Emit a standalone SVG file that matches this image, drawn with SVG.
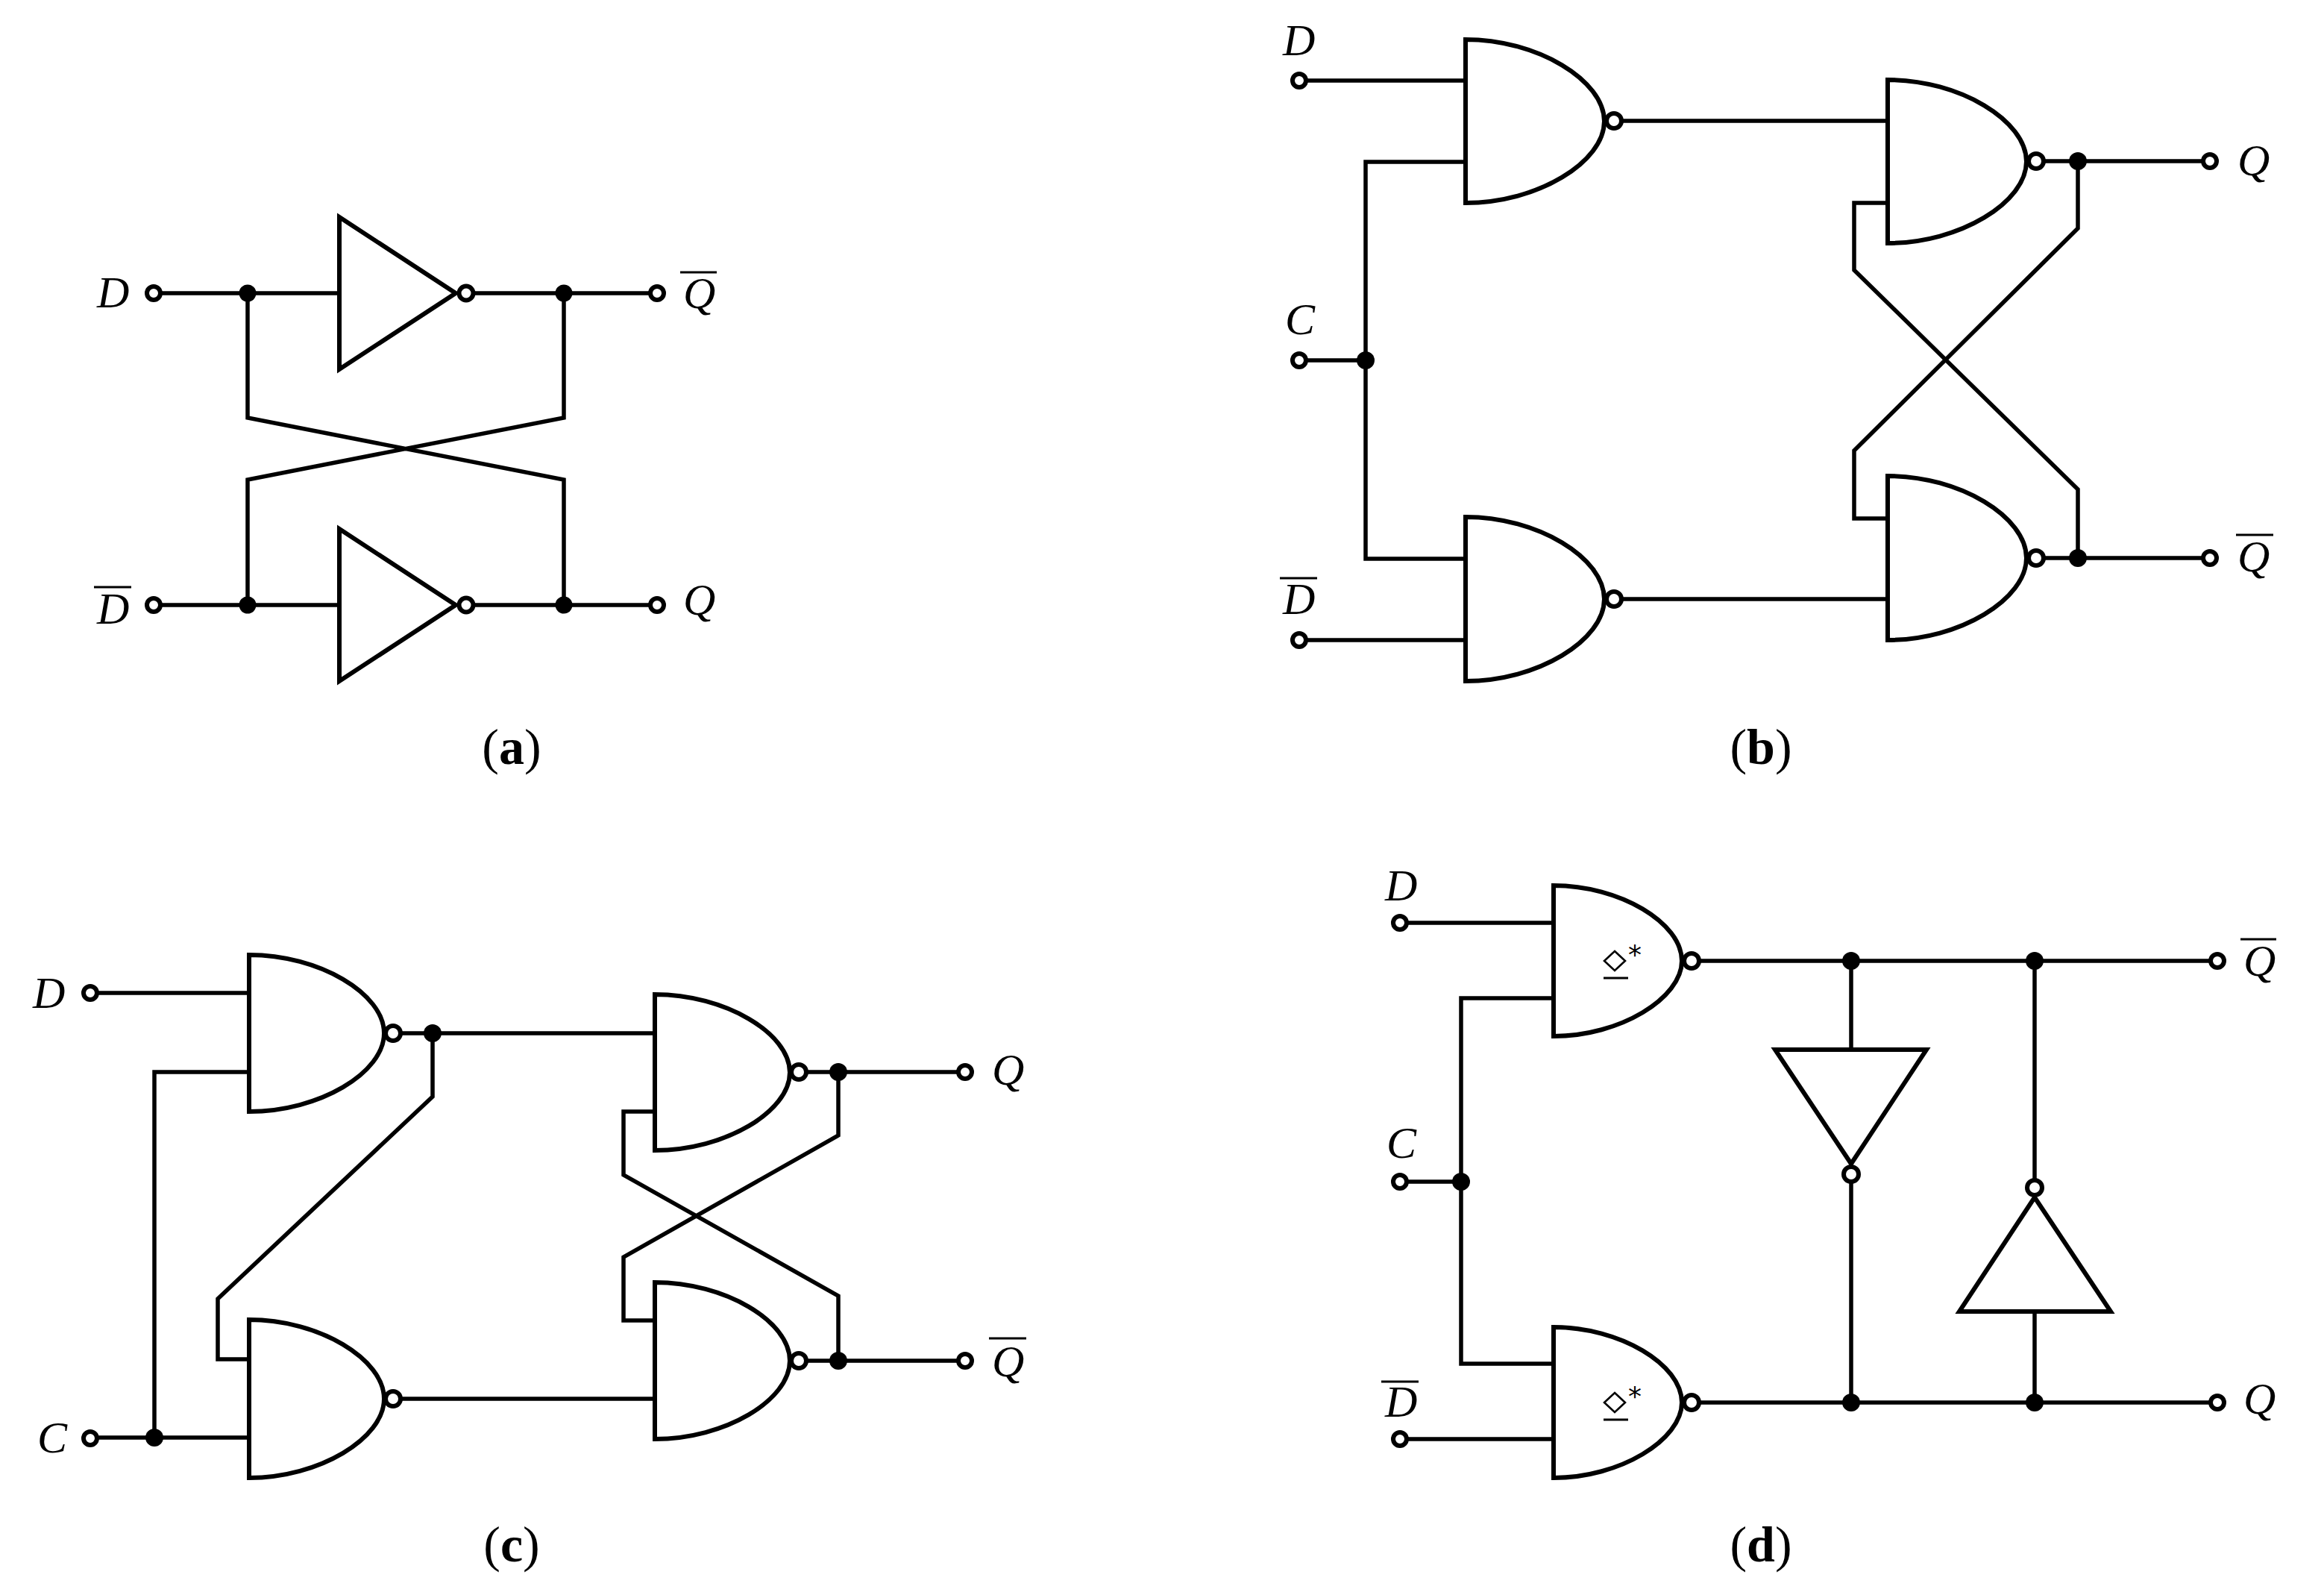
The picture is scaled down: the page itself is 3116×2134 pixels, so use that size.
<svg xmlns="http://www.w3.org/2000/svg" width="3116" height="2134" viewBox="0 0 3116 2134">
<style>
.w{fill:none;stroke:#000;stroke-width:5.5;stroke-linejoin:miter}
.g{fill:#fff;stroke:#000;stroke-width:6;stroke-linejoin:miter}
.o{fill:#fff;stroke:#000;stroke-width:6}
.j{fill:#000}
.b{fill:none;stroke:#000;stroke-width:3}
.l{font-family:"Liberation Serif",serif;font-style:italic;font-size:60px;fill:#000}
.c{font-family:"Liberation Serif",serif;font-size:68px;fill:#000;text-anchor:middle}
.c tspan{font-weight:bold}
.s{font-family:"DejaVu Sans",sans-serif;font-size:36px;fill:#000}
.d{fill:none;stroke:#000;stroke-width:2.6}
</style>
<rect width="3116" height="2134" fill="#fff"/>
<g id="connectors">
<path class="w" d="M206 393H455M625 393H881M332 393V560L756 643V811M756 393V560L332 643V811M206 811H455M625 811H881"/>
<path class="w" d="M1742 108H1965M1742 483H1831M1965 217H1831V749H1965M1742 858H1965M2164 162H2531M2164 803H2531M2730 216H2963M2730 748H2963M2786 216V306L2486 604V695H2531M2531 272H2486V362L2786 656V748"/>
<path class="w" d="M121 1331H334M121 1927H334M334 1437H207V1927M527 1385H878M580 1385V1470L292 1741V1822H334M527 1875H878M1071 1437H1294M1071 1824H1294M878 1490H836V1575L1124 1737V1824M1124 1437V1522L836 1685V1770H878"/>
<path class="w" d="M1877 1237H2083M1877 1584H1959M2083 1338H1959V1828H2083M1877 1929H2083M2268 1288H2973M2268 1880H2973M2482 1288V1407M2482 1574V1880M2728 1288V1592M2728 1758V1880"/>
<g class="j">
<circle cx="332" cy="393" r="11.5"/><circle cx="756" cy="393" r="11.5"/><circle cx="332" cy="811" r="11.5"/><circle cx="756" cy="811" r="11.5"/>
<circle cx="1831" cy="483" r="12"/><circle cx="2786" cy="216" r="12"/><circle cx="2786" cy="748" r="12"/>
<circle cx="207" cy="1927" r="12"/><circle cx="580" cy="1385" r="12"/><circle cx="1124" cy="1437" r="12"/><circle cx="1124" cy="1824" r="12"/>
<circle cx="1959" cy="1584" r="12"/><circle cx="2482" cy="1288" r="12"/><circle cx="2728" cy="1288" r="12"/><circle cx="2482" cy="1880" r="12"/><circle cx="2728" cy="1880" r="12"/>
</g>
</g>
<g id="a-inv1"><polygon class="g" points="455,291 611,393 455,495"/><circle class="o" cx="625" cy="393" r="9.5"/></g>
<g id="a-inv2"><polygon class="g" points="455,709 611,811 455,913"/><circle class="o" cx="625" cy="811" r="9.5"/></g>
<g id="a-D"><circle class="o" cx="206" cy="393" r="9"/><text class="l" x="130" y="412">D</text></g>
<g id="a-Dbar"><circle class="o" cx="206" cy="811" r="9"/><path class="b" d="M126 787H176"/><text class="l" x="130" y="836">D</text></g>
<g id="a-Qbar"><circle class="o" cx="881" cy="393" r="9"/><path class="b" d="M912 365H961"/><text class="l" x="916" y="413">Q</text></g>
<g id="a-Q"><circle class="o" cx="881" cy="811" r="9"/><text class="l" x="916" y="824">Q</text></g>
<text id="cap-a" class="c" x="686" y="1024">(<tspan>a</tspan>)</text>

<g id="b-nand1"><path class="g" d="M1965 53C2062 53 2151 108 2151 162.500C2151 217 2062 272 1965 272Z"/><circle class="o" cx="2164" cy="162" r="10"/></g>
<g id="b-nand2"><path class="g" d="M2531 107C2628 107 2717 162 2717 216.500C2717 271 2628 326 2531 326Z"/><circle class="o" cx="2730" cy="216" r="10"/></g>
<g id="b-nand3"><path class="g" d="M1965 693C2062 693 2151 748 2151 803C2151 858 2062 913 1965 913Z"/><circle class="o" cx="2164" cy="803" r="10"/></g>
<g id="b-nand4"><path class="g" d="M2531 638C2628 638 2717 693 2717 748C2717 803 2628 858 2531 858Z"/><circle class="o" cx="2730" cy="748" r="10"/></g>
<g id="b-D"><circle class="o" cx="1742" cy="108" r="9"/><text class="l" x="1720" y="74">D</text></g>
<g id="b-C"><circle class="o" cx="1742" cy="483" r="9"/><text class="l" x="1723" y="448">C</text></g>
<g id="b-Dbar"><circle class="o" cx="1742" cy="858" r="9"/><path class="b" d="M1716 775H1766"/><text class="l" x="1720" y="823">D</text></g>
<g id="b-Q"><circle class="o" cx="2963" cy="216" r="9"/><text class="l" x="3000" y="235">Q</text></g>
<g id="b-Qbar"><circle class="o" cx="2963" cy="748" r="9"/><path class="b" d="M2998 717H3048"/><text class="l" x="3000" y="766">Q</text></g>
<text id="cap-b" class="c" x="2361" y="1024">(<tspan>b</tspan>)</text>

<g id="c-nand1"><path class="g" d="M334 1280C428 1280 515 1332 515 1385C515 1438 428 1490 334 1490Z"/><circle class="o" cx="527" cy="1385" r="10"/></g>
<g id="c-nand2"><path class="g" d="M334 1769C428 1769 515 1822 515 1875C515 1928 428 1981 334 1981Z"/><circle class="o" cx="527" cy="1875" r="10"/></g>
<g id="c-nand3"><path class="g" d="M878 1333C972 1333 1059 1385 1059 1437.500C1059 1490 972 1542 878 1542Z"/><circle class="o" cx="1071" cy="1437" r="10"/></g>
<g id="c-nand4"><path class="g" d="M878 1719C972 1719 1059 1771 1059 1824C1059 1877 972 1929 878 1929Z"/><circle class="o" cx="1071" cy="1824" r="10"/></g>
<g id="c-D"><circle class="o" cx="121" cy="1331" r="9"/><text class="l" x="44" y="1351">D</text></g>
<g id="c-C"><circle class="o" cx="121" cy="1928" r="9"/><text class="l" x="50" y="1947">C</text></g>
<g id="c-Q"><circle class="o" cx="1294" cy="1437" r="9"/><text class="l" x="1330" y="1454">Q</text></g>
<g id="c-Qbar"><circle class="o" cx="1294" cy="1824" r="9"/><path class="b" d="M1326 1794H1376"/><text class="l" x="1330" y="1845">Q</text></g>
<text id="cap-c" class="c" x="686" y="2093">(<tspan>c</tspan>)</text>

<g id="d-nand1"><path class="g" d="M2083 1187C2172 1187 2255 1237 2255 1288C2255 1338 2172 1389 2083 1389Z"/><circle class="o" cx="2268" cy="1288" r="10"/><polygon class="d" points="2165,1275 2179,1288 2165,1301 2151,1288"/><path class="b" d="M2150 1311H2183"/><text class="s" x="2183" y="1292">*</text></g>
<g id="d-nand2"><path class="g" d="M2083 1779C2172 1779 2255 1829 2255 1880C2255 1930 2172 1981 2083 1981Z"/><circle class="o" cx="2268" cy="1880" r="10"/><polygon class="d" points="2165,1867 2179,1880 2165,1893 2151,1880"/><path class="b" d="M2150 1903H2183"/><text class="s" x="2183" y="1884">*</text></g>
<g id="d-inv1"><polygon class="g" points="2380,1407 2583,1407 2482,1560"/><circle class="o" cx="2482" cy="1574" r="10"/></g>
<g id="d-inv2"><polygon class="g" points="2627,1758 2830,1758 2728,1605"/><circle class="o" cx="2728" cy="1592" r="10"/></g>
<g id="d-D"><circle class="o" cx="1877" cy="1237" r="9"/><text class="l" x="1857" y="1207">D</text></g>
<g id="d-C"><circle class="o" cx="1877" cy="1584" r="9"/><text class="l" x="1859" y="1552">C</text></g>
<g id="d-Dbar"><circle class="o" cx="1877" cy="1929" r="9"/><path class="b" d="M1852 1852H1902"/><text class="l" x="1857" y="1899">D</text></g>
<g id="d-Qbar"><circle class="o" cx="2973" cy="1288" r="9"/><path class="b" d="M3004 1259H3052"/><text class="l" x="3008" y="1308">Q</text></g>
<g id="d-Q"><circle class="o" cx="2973" cy="1880" r="9"/><text class="l" x="3008" y="1895">Q</text></g>
<text id="cap-d" class="c" x="2361" y="2093">(<tspan>d</tspan>)</text>
</svg>
